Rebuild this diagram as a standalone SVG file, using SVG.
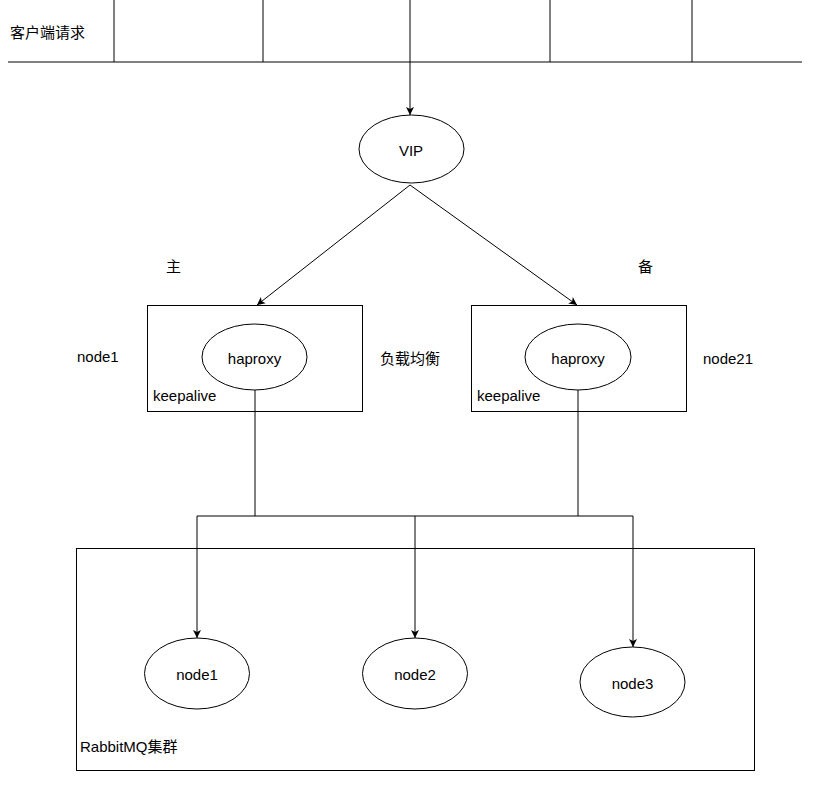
<svg xmlns="http://www.w3.org/2000/svg" width="815" height="788" viewBox="0 0 815 788">
<style>
.t{font-family:"Liberation Sans","Noto Sans CJK SC",Arial,sans-serif;font-size:15px;fill:#000}
.m{text-anchor:middle;dominant-baseline:central}
.s{fill:#fff;stroke:#000;stroke-width:1}
.c{fill:none;stroke:#000;stroke-width:1}
</style>
<defs>
<marker id="ah" markerWidth="10" markerHeight="10" refX="9" refY="5" orient="auto" markerUnits="userSpaceOnUse">
<path d="M1,1 L9,5 L1,9 L3,5 Z" fill="#000"/>
</marker>
</defs>
<rect width="815" height="788" fill="#fff"/>
<g id="client-bar">
<line class="c" x1="8" y1="62" x2="802" y2="62"/>
<line class="c" x1="114" y1="0" x2="114" y2="62"/>
<line class="c" x1="263" y1="0" x2="263" y2="62"/>
<line class="c" x1="410" y1="0" x2="410" y2="62"/>
<line class="c" x1="550" y1="0" x2="550" y2="62"/>
<line class="c" x1="692" y1="0" x2="692" y2="62"/>
<text class="t" x="10" y="38">客户端请求</text>
</g>
<g id="cluster">
<rect class="s" x="76.5" y="548.5" width="678" height="222"/>
<text class="t" x="80" y="752">RabbitMQ集群</text>
</g>
<g id="box-left">
<rect class="s" x="147.5" y="305.5" width="215" height="106"/>
<text class="t" x="153" y="401">keepalive</text>
</g>
<g id="box-right">
<rect class="s" x="471.5" y="305.5" width="215" height="106"/>
<text class="t" x="477" y="401">keepalive</text>
</g>
<g id="connectors">
<line class="c" x1="410" y1="62" x2="410" y2="115" marker-end="url(#ah)"/>
<line class="c" x1="410" y1="185" x2="257" y2="305" marker-end="url(#ah)"/>
<line class="c" x1="410" y1="185" x2="577" y2="305" marker-end="url(#ah)"/>
<polyline class="c" points="255,390 255,516 197,516 197,638" marker-end="url(#ah)"/>
<polyline class="c" points="255,516 415,516 415,638" marker-end="url(#ah)"/>
<polyline class="c" points="578,390 578,516 633,516 633,647" marker-end="url(#ah)"/>
<line class="c" x1="415" y1="516" x2="578" y2="516"/>
</g>
<g id="vip">
<ellipse class="s" cx="411.5" cy="149" rx="52.5" ry="34"/>
<text class="t m" x="411" y="150">VIP</text>
</g>
<g id="haproxy-left">
<ellipse class="s" cx="254.5" cy="357" rx="52.5" ry="33"/>
<text class="t m" x="254.5" y="358">haproxy</text>
</g>
<g id="haproxy-right">
<ellipse class="s" cx="578" cy="357" rx="53" ry="33"/>
<text class="t m" x="578" y="358">haproxy</text>
</g>
<g id="node1">
<ellipse class="s" cx="197" cy="673.5" rx="52.5" ry="35.5"/>
<text class="t m" x="197" y="674">node1</text>
</g>
<g id="node2">
<ellipse class="s" cx="415" cy="673.5" rx="52.5" ry="35.5"/>
<text class="t m" x="415" y="674">node2</text>
</g>
<g id="node3">
<ellipse class="s" cx="632.5" cy="682" rx="52.5" ry="35"/>
<text class="t m" x="632.5" y="683">node3</text>
</g>
<g id="labels">
<text class="t" x="166" y="272">主</text>
<text class="t" x="638" y="272">备</text>
<text class="t" x="77" y="362">node1</text>
<text class="t" x="380" y="364">负载均衡</text>
<text class="t" x="703" y="364">node21</text>
</g>
</svg>
